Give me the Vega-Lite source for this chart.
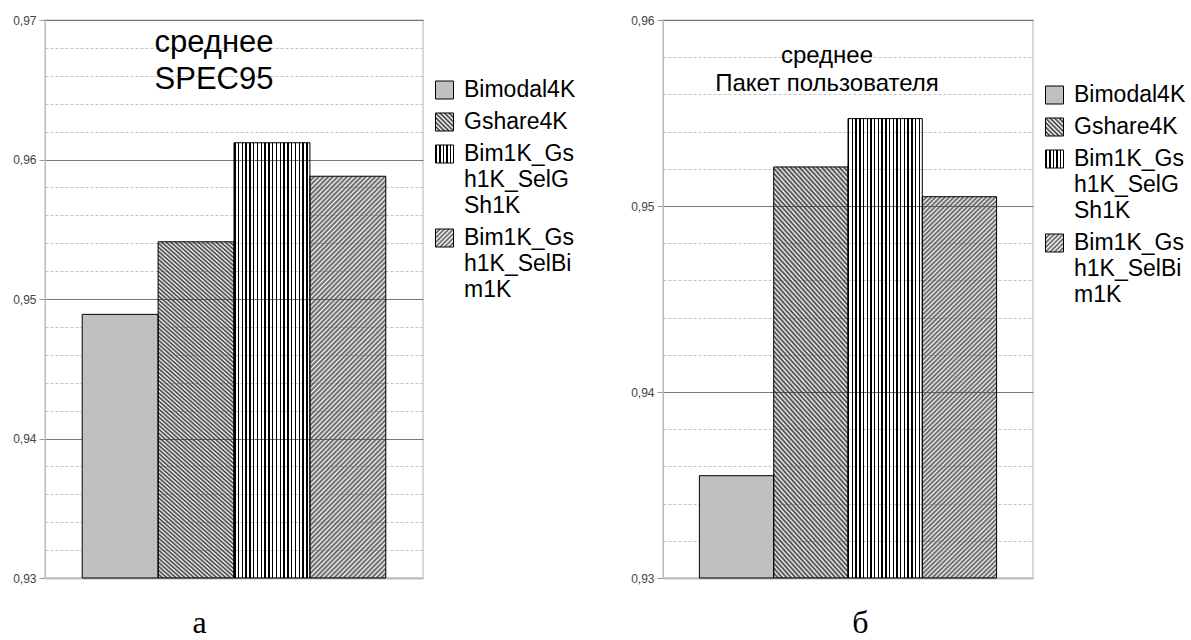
{
"$schema": "https://vega.github.io/schema/vega-lite/v6.json",
"background": "white",
"padding": {"left": 11, "top": 13, "right": 0, "bottom": 0},
"bounds": "flush",
"spacing": 240,
"resolve": {"scale": {"fill": "independent"}, "legend": {"fill": "independent"}},
"config": {"view": {"stroke": "#d9d9d9", "strokeWidth": 2}, "font": "Liberation Sans"},
"params": [
{"name": "gradG", "value": {"gradient": "linear", "x1": 0, "y1": 1, "x2": 0.2318, "y2": -0.1542, "stops": [
{"offset":0,"color":"#444"},{"offset":0.005,"color":"transparent"},{"offset":0.01,"color":"#444"},{"offset":0.015,"color":"transparent"},{"offset":0.02,"color":"#444"},{"offset":0.025,"color":"transparent"},{"offset":0.03,"color":"#444"},{"offset":0.035,"color":"transparent"},{"offset":0.04,"color":"#444"},{"offset":0.045,"color":"transparent"},
{"offset":0.05,"color":"#444"},{"offset":0.055,"color":"transparent"},{"offset":0.06,"color":"#444"},{"offset":0.065,"color":"transparent"},{"offset":0.07,"color":"#444"},{"offset":0.075,"color":"transparent"},{"offset":0.08,"color":"#444"},{"offset":0.085,"color":"transparent"},{"offset":0.09,"color":"#444"},{"offset":0.095,"color":"transparent"},
{"offset":0.1,"color":"#444"},{"offset":0.105,"color":"transparent"},{"offset":0.11,"color":"#444"},{"offset":0.115,"color":"transparent"},{"offset":0.12,"color":"#444"},{"offset":0.125,"color":"transparent"},{"offset":0.13,"color":"#444"},{"offset":0.135,"color":"transparent"},{"offset":0.14,"color":"#444"},{"offset":0.145,"color":"transparent"},
{"offset":0.15,"color":"#444"},{"offset":0.155,"color":"transparent"},{"offset":0.16,"color":"#444"},{"offset":0.165,"color":"transparent"},{"offset":0.17,"color":"#444"},{"offset":0.175,"color":"transparent"},{"offset":0.18,"color":"#444"},{"offset":0.185,"color":"transparent"},{"offset":0.19,"color":"#444"},{"offset":0.195,"color":"transparent"},
{"offset":0.2,"color":"#444"},{"offset":0.205,"color":"transparent"},{"offset":0.21,"color":"#444"},{"offset":0.215,"color":"transparent"},{"offset":0.22,"color":"#444"},{"offset":0.225,"color":"transparent"},{"offset":0.23,"color":"#444"},{"offset":0.235,"color":"transparent"},{"offset":0.24,"color":"#444"},{"offset":0.245,"color":"transparent"},
{"offset":0.25,"color":"#444"},{"offset":0.255,"color":"transparent"},{"offset":0.26,"color":"#444"},{"offset":0.265,"color":"transparent"},{"offset":0.27,"color":"#444"},{"offset":0.275,"color":"transparent"},{"offset":0.28,"color":"#444"},{"offset":0.285,"color":"transparent"},{"offset":0.29,"color":"#444"},{"offset":0.295,"color":"transparent"},
{"offset":0.3,"color":"#444"},{"offset":0.305,"color":"transparent"},{"offset":0.31,"color":"#444"},{"offset":0.315,"color":"transparent"},{"offset":0.32,"color":"#444"},{"offset":0.325,"color":"transparent"},{"offset":0.33,"color":"#444"},{"offset":0.335,"color":"transparent"},{"offset":0.34,"color":"#444"},{"offset":0.345,"color":"transparent"},
{"offset":0.35,"color":"#444"},{"offset":0.355,"color":"transparent"},{"offset":0.36,"color":"#444"},{"offset":0.365,"color":"transparent"},{"offset":0.37,"color":"#444"},{"offset":0.375,"color":"transparent"},{"offset":0.38,"color":"#444"},{"offset":0.385,"color":"transparent"},{"offset":0.39,"color":"#444"},{"offset":0.395,"color":"transparent"},
{"offset":0.4,"color":"#444"},{"offset":0.405,"color":"transparent"},{"offset":0.41,"color":"#444"},{"offset":0.415,"color":"transparent"},{"offset":0.42,"color":"#444"},{"offset":0.425,"color":"transparent"},{"offset":0.43,"color":"#444"},{"offset":0.435,"color":"transparent"},{"offset":0.44,"color":"#444"},{"offset":0.445,"color":"transparent"},
{"offset":0.45,"color":"#444"},{"offset":0.455,"color":"transparent"},{"offset":0.46,"color":"#444"},{"offset":0.465,"color":"transparent"},{"offset":0.47,"color":"#444"},{"offset":0.475,"color":"transparent"},{"offset":0.48,"color":"#444"},{"offset":0.485,"color":"transparent"},{"offset":0.49,"color":"#444"},{"offset":0.495,"color":"transparent"},
{"offset":0.5,"color":"#444"},{"offset":0.505,"color":"transparent"},{"offset":0.51,"color":"#444"},{"offset":0.515,"color":"transparent"},{"offset":0.52,"color":"#444"},{"offset":0.525,"color":"transparent"},{"offset":0.53,"color":"#444"},{"offset":0.535,"color":"transparent"},{"offset":0.54,"color":"#444"},{"offset":0.545,"color":"transparent"},
{"offset":0.55,"color":"#444"},{"offset":0.555,"color":"transparent"},{"offset":0.56,"color":"#444"},{"offset":0.565,"color":"transparent"},{"offset":0.57,"color":"#444"},{"offset":0.575,"color":"transparent"},{"offset":0.58,"color":"#444"},{"offset":0.585,"color":"transparent"},{"offset":0.59,"color":"#444"},{"offset":0.595,"color":"transparent"},
{"offset":0.6,"color":"#444"},{"offset":0.605,"color":"transparent"},{"offset":0.61,"color":"#444"},{"offset":0.615,"color":"transparent"},{"offset":0.62,"color":"#444"},{"offset":0.625,"color":"transparent"},{"offset":0.63,"color":"#444"},{"offset":0.635,"color":"transparent"},{"offset":0.64,"color":"#444"},{"offset":0.645,"color":"transparent"},
{"offset":0.65,"color":"#444"},{"offset":0.655,"color":"transparent"},{"offset":0.66,"color":"#444"},{"offset":0.665,"color":"transparent"},{"offset":0.67,"color":"#444"},{"offset":0.675,"color":"transparent"},{"offset":0.68,"color":"#444"},{"offset":0.685,"color":"transparent"},{"offset":0.69,"color":"#444"},{"offset":0.695,"color":"transparent"},
{"offset":0.7,"color":"#444"},{"offset":0.705,"color":"transparent"},{"offset":0.71,"color":"#444"},{"offset":0.715,"color":"transparent"},{"offset":0.72,"color":"#444"},{"offset":0.725,"color":"transparent"},{"offset":0.73,"color":"#444"},{"offset":0.735,"color":"transparent"},{"offset":0.74,"color":"#444"},{"offset":0.745,"color":"transparent"},
{"offset":0.75,"color":"#444"},{"offset":0.755,"color":"transparent"},{"offset":0.76,"color":"#444"},{"offset":0.765,"color":"transparent"},{"offset":0.77,"color":"#444"},{"offset":0.775,"color":"transparent"},{"offset":0.78,"color":"#444"},{"offset":0.785,"color":"transparent"},{"offset":0.79,"color":"#444"},{"offset":0.795,"color":"transparent"},
{"offset":0.8,"color":"#444"},{"offset":0.805,"color":"transparent"},{"offset":0.81,"color":"#444"},{"offset":0.815,"color":"transparent"},{"offset":0.82,"color":"#444"},{"offset":0.825,"color":"transparent"},{"offset":0.83,"color":"#444"},{"offset":0.835,"color":"transparent"},{"offset":0.84,"color":"#444"},{"offset":0.845,"color":"transparent"},
{"offset":0.85,"color":"#444"},{"offset":0.855,"color":"transparent"},{"offset":0.86,"color":"#444"},{"offset":0.865,"color":"transparent"},{"offset":0.87,"color":"#444"},{"offset":0.875,"color":"transparent"},{"offset":0.88,"color":"#444"},{"offset":0.885,"color":"transparent"},{"offset":0.89,"color":"#444"},{"offset":0.895,"color":"transparent"},
{"offset":0.9,"color":"#444"},{"offset":0.905,"color":"transparent"},{"offset":0.91,"color":"#444"},{"offset":0.915,"color":"transparent"},{"offset":0.92,"color":"#444"},{"offset":0.925,"color":"transparent"},{"offset":0.93,"color":"#444"},{"offset":0.935,"color":"transparent"},{"offset":0.94,"color":"#444"},{"offset":0.945,"color":"transparent"},
{"offset":0.95,"color":"#444"},{"offset":0.955,"color":"transparent"},{"offset":0.96,"color":"#444"},{"offset":0.965,"color":"transparent"},{"offset":0.97,"color":"#444"},{"offset":0.975,"color":"transparent"},{"offset":0.98,"color":"#444"},{"offset":0.985,"color":"transparent"},{"offset":0.99,"color":"#444"},{"offset":0.995,"color":"transparent"},
{"offset":1,"color":"#444"}
]}},
{"name": "gradB", "value": {"gradient": "linear", "x1": 0, "y1": 0, "x2": 0.2211, "y2": 1.1497, "stops": [
{"offset":0,"color":"#666"},{"offset":0.005,"color":"transparent"},{"offset":0.01,"color":"#666"},{"offset":0.015,"color":"transparent"},{"offset":0.02,"color":"#666"},{"offset":0.025,"color":"transparent"},{"offset":0.03,"color":"#666"},{"offset":0.035,"color":"transparent"},{"offset":0.04,"color":"#666"},{"offset":0.045,"color":"transparent"},
{"offset":0.05,"color":"#666"},{"offset":0.055,"color":"transparent"},{"offset":0.06,"color":"#666"},{"offset":0.065,"color":"transparent"},{"offset":0.07,"color":"#666"},{"offset":0.075,"color":"transparent"},{"offset":0.08,"color":"#666"},{"offset":0.085,"color":"transparent"},{"offset":0.09,"color":"#666"},{"offset":0.095,"color":"transparent"},
{"offset":0.1,"color":"#666"},{"offset":0.105,"color":"transparent"},{"offset":0.11,"color":"#666"},{"offset":0.115,"color":"transparent"},{"offset":0.12,"color":"#666"},{"offset":0.125,"color":"transparent"},{"offset":0.13,"color":"#666"},{"offset":0.135,"color":"transparent"},{"offset":0.14,"color":"#666"},{"offset":0.145,"color":"transparent"},
{"offset":0.15,"color":"#666"},{"offset":0.155,"color":"transparent"},{"offset":0.16,"color":"#666"},{"offset":0.165,"color":"transparent"},{"offset":0.17,"color":"#666"},{"offset":0.175,"color":"transparent"},{"offset":0.18,"color":"#666"},{"offset":0.185,"color":"transparent"},{"offset":0.19,"color":"#666"},{"offset":0.195,"color":"transparent"},
{"offset":0.2,"color":"#666"},{"offset":0.205,"color":"transparent"},{"offset":0.21,"color":"#666"},{"offset":0.215,"color":"transparent"},{"offset":0.22,"color":"#666"},{"offset":0.225,"color":"transparent"},{"offset":0.23,"color":"#666"},{"offset":0.235,"color":"transparent"},{"offset":0.24,"color":"#666"},{"offset":0.245,"color":"transparent"},
{"offset":0.25,"color":"#666"},{"offset":0.255,"color":"transparent"},{"offset":0.26,"color":"#666"},{"offset":0.265,"color":"transparent"},{"offset":0.27,"color":"#666"},{"offset":0.275,"color":"transparent"},{"offset":0.28,"color":"#666"},{"offset":0.285,"color":"transparent"},{"offset":0.29,"color":"#666"},{"offset":0.295,"color":"transparent"},
{"offset":0.3,"color":"#666"},{"offset":0.305,"color":"transparent"},{"offset":0.31,"color":"#666"},{"offset":0.315,"color":"transparent"},{"offset":0.32,"color":"#666"},{"offset":0.325,"color":"transparent"},{"offset":0.33,"color":"#666"},{"offset":0.335,"color":"transparent"},{"offset":0.34,"color":"#666"},{"offset":0.345,"color":"transparent"},
{"offset":0.35,"color":"#666"},{"offset":0.355,"color":"transparent"},{"offset":0.36,"color":"#666"},{"offset":0.365,"color":"transparent"},{"offset":0.37,"color":"#666"},{"offset":0.375,"color":"transparent"},{"offset":0.38,"color":"#666"},{"offset":0.385,"color":"transparent"},{"offset":0.39,"color":"#666"},{"offset":0.395,"color":"transparent"},
{"offset":0.4,"color":"#666"},{"offset":0.405,"color":"transparent"},{"offset":0.41,"color":"#666"},{"offset":0.415,"color":"transparent"},{"offset":0.42,"color":"#666"},{"offset":0.425,"color":"transparent"},{"offset":0.43,"color":"#666"},{"offset":0.435,"color":"transparent"},{"offset":0.44,"color":"#666"},{"offset":0.445,"color":"transparent"},
{"offset":0.45,"color":"#666"},{"offset":0.455,"color":"transparent"},{"offset":0.46,"color":"#666"},{"offset":0.465,"color":"transparent"},{"offset":0.47,"color":"#666"},{"offset":0.475,"color":"transparent"},{"offset":0.48,"color":"#666"},{"offset":0.485,"color":"transparent"},{"offset":0.49,"color":"#666"},{"offset":0.495,"color":"transparent"},
{"offset":0.5,"color":"#666"},{"offset":0.505,"color":"transparent"},{"offset":0.51,"color":"#666"},{"offset":0.515,"color":"transparent"},{"offset":0.52,"color":"#666"},{"offset":0.525,"color":"transparent"},{"offset":0.53,"color":"#666"},{"offset":0.535,"color":"transparent"},{"offset":0.54,"color":"#666"},{"offset":0.545,"color":"transparent"},
{"offset":0.55,"color":"#666"},{"offset":0.555,"color":"transparent"},{"offset":0.56,"color":"#666"},{"offset":0.565,"color":"transparent"},{"offset":0.57,"color":"#666"},{"offset":0.575,"color":"transparent"},{"offset":0.58,"color":"#666"},{"offset":0.585,"color":"transparent"},{"offset":0.59,"color":"#666"},{"offset":0.595,"color":"transparent"},
{"offset":0.6,"color":"#666"},{"offset":0.605,"color":"transparent"},{"offset":0.61,"color":"#666"},{"offset":0.615,"color":"transparent"},{"offset":0.62,"color":"#666"},{"offset":0.625,"color":"transparent"},{"offset":0.63,"color":"#666"},{"offset":0.635,"color":"transparent"},{"offset":0.64,"color":"#666"},{"offset":0.645,"color":"transparent"},
{"offset":0.65,"color":"#666"},{"offset":0.655,"color":"transparent"},{"offset":0.66,"color":"#666"},{"offset":0.665,"color":"transparent"},{"offset":0.67,"color":"#666"},{"offset":0.675,"color":"transparent"},{"offset":0.68,"color":"#666"},{"offset":0.685,"color":"transparent"},{"offset":0.69,"color":"#666"},{"offset":0.695,"color":"transparent"},
{"offset":0.7,"color":"#666"},{"offset":0.705,"color":"transparent"},{"offset":0.71,"color":"#666"},{"offset":0.715,"color":"transparent"},{"offset":0.72,"color":"#666"},{"offset":0.725,"color":"transparent"},{"offset":0.73,"color":"#666"},{"offset":0.735,"color":"transparent"},{"offset":0.74,"color":"#666"},{"offset":0.745,"color":"transparent"},
{"offset":0.75,"color":"#666"},{"offset":0.755,"color":"transparent"},{"offset":0.76,"color":"#666"},{"offset":0.765,"color":"transparent"},{"offset":0.77,"color":"#666"},{"offset":0.775,"color":"transparent"},{"offset":0.78,"color":"#666"},{"offset":0.785,"color":"transparent"},{"offset":0.79,"color":"#666"},{"offset":0.795,"color":"transparent"},
{"offset":0.8,"color":"#666"},{"offset":0.805,"color":"transparent"},{"offset":0.81,"color":"#666"},{"offset":0.815,"color":"transparent"},{"offset":0.82,"color":"#666"},{"offset":0.825,"color":"transparent"},{"offset":0.83,"color":"#666"},{"offset":0.835,"color":"transparent"},{"offset":0.84,"color":"#666"},{"offset":0.845,"color":"transparent"},
{"offset":0.85,"color":"#666"},{"offset":0.855,"color":"transparent"},{"offset":0.86,"color":"#666"},{"offset":0.865,"color":"transparent"},{"offset":0.87,"color":"#666"},{"offset":0.875,"color":"transparent"},{"offset":0.88,"color":"#666"},{"offset":0.885,"color":"transparent"},{"offset":0.89,"color":"#666"},{"offset":0.895,"color":"transparent"},
{"offset":0.9,"color":"#666"},{"offset":0.905,"color":"transparent"},{"offset":0.91,"color":"#666"},{"offset":0.915,"color":"transparent"},{"offset":0.92,"color":"#666"},{"offset":0.925,"color":"transparent"},{"offset":0.93,"color":"#666"},{"offset":0.935,"color":"transparent"},{"offset":0.94,"color":"#666"},{"offset":0.945,"color":"transparent"},
{"offset":0.95,"color":"#666"},{"offset":0.955,"color":"transparent"},{"offset":0.96,"color":"#666"},{"offset":0.965,"color":"transparent"},{"offset":0.97,"color":"#666"},{"offset":0.975,"color":"transparent"},{"offset":0.98,"color":"#666"},{"offset":0.985,"color":"transparent"},{"offset":0.99,"color":"#666"},{"offset":0.995,"color":"transparent"},
{"offset":1,"color":"#666"}
]}},
{"name": "gradV", "value": {"gradient": "linear", "x1": 0, "y1": 0, "x2": 1, "y2": 0, "stops": [
{"offset":0,"color":"#000"},{"offset":0.02,"color":"#000"},{"offset":0.02,"color":"transparent"},{"offset":0.05,"color":"transparent"},
{"offset":0.05,"color":"#000"},{"offset":0.07,"color":"#000"},{"offset":0.07,"color":"transparent"},{"offset":0.1,"color":"transparent"},
{"offset":0.1,"color":"#000"},{"offset":0.12,"color":"#000"},{"offset":0.12,"color":"transparent"},{"offset":0.15,"color":"transparent"},
{"offset":0.15,"color":"#000"},{"offset":0.17,"color":"#000"},{"offset":0.17,"color":"transparent"},{"offset":0.2,"color":"transparent"},
{"offset":0.2,"color":"#000"},{"offset":0.22,"color":"#000"},{"offset":0.22,"color":"transparent"},{"offset":0.25,"color":"transparent"},
{"offset":0.25,"color":"#000"},{"offset":0.27,"color":"#000"},{"offset":0.27,"color":"transparent"},{"offset":0.3,"color":"transparent"},
{"offset":0.3,"color":"#000"},{"offset":0.32,"color":"#000"},{"offset":0.32,"color":"transparent"},{"offset":0.35,"color":"transparent"},
{"offset":0.35,"color":"#000"},{"offset":0.37,"color":"#000"},{"offset":0.37,"color":"transparent"},{"offset":0.4,"color":"transparent"},
{"offset":0.4,"color":"#000"},{"offset":0.42,"color":"#000"},{"offset":0.42,"color":"transparent"},{"offset":0.45,"color":"transparent"},
{"offset":0.45,"color":"#000"},{"offset":0.47,"color":"#000"},{"offset":0.47,"color":"transparent"},{"offset":0.5,"color":"transparent"},
{"offset":0.5,"color":"#000"},{"offset":0.52,"color":"#000"},{"offset":0.52,"color":"transparent"},{"offset":0.55,"color":"transparent"},
{"offset":0.55,"color":"#000"},{"offset":0.57,"color":"#000"},{"offset":0.57,"color":"transparent"},{"offset":0.6,"color":"transparent"},
{"offset":0.6,"color":"#000"},{"offset":0.62,"color":"#000"},{"offset":0.62,"color":"transparent"},{"offset":0.65,"color":"transparent"},
{"offset":0.65,"color":"#000"},{"offset":0.67,"color":"#000"},{"offset":0.67,"color":"transparent"},{"offset":0.7,"color":"transparent"},
{"offset":0.7,"color":"#000"},{"offset":0.72,"color":"#000"},{"offset":0.72,"color":"transparent"},{"offset":0.75,"color":"transparent"},
{"offset":0.75,"color":"#000"},{"offset":0.77,"color":"#000"},{"offset":0.77,"color":"transparent"},{"offset":0.8,"color":"transparent"},
{"offset":0.8,"color":"#000"},{"offset":0.82,"color":"#000"},{"offset":0.82,"color":"transparent"},{"offset":0.85,"color":"transparent"},
{"offset":0.85,"color":"#000"},{"offset":0.87,"color":"#000"},{"offset":0.87,"color":"transparent"},{"offset":0.9,"color":"transparent"},
{"offset":0.9,"color":"#000"},{"offset":0.92,"color":"#000"},{"offset":0.92,"color":"transparent"},{"offset":0.95,"color":"transparent"},
{"offset":0.95,"color":"#000"},{"offset":0.97,"color":"#000"},{"offset":0.97,"color":"transparent"},{"offset":1,"color":"transparent"}
]}},
{"name": "legG", "value": {"gradient": "linear", "x1": 0, "y1": 1, "x2": 1, "y2": 0, "stops": [
{"offset":0,"color":"#333"},{"offset":0.0625,"color":"#fff"},{"offset":0.125,"color":"#333"},{"offset":0.1875,"color":"#fff"},{"offset":0.25,"color":"#333"},{"offset":0.3125,"color":"#fff"},{"offset":0.375,"color":"#333"},{"offset":0.4375,"color":"#fff"},{"offset":0.5,"color":"#333"},{"offset":0.5625,"color":"#fff"},{"offset":0.625,"color":"#333"},{"offset":0.6875,"color":"#fff"},{"offset":0.75,"color":"#333"},{"offset":0.8125,"color":"#fff"},{"offset":0.875,"color":"#333"},{"offset":0.9375,"color":"#fff"},{"offset":1,"color":"#333"}
]}},
{"name": "legB", "value": {"gradient": "linear", "x1": 0, "y1": 0, "x2": 1, "y2": 1, "stops": [
{"offset":0,"color":"#555"},{"offset":0.0625,"color":"#fff"},{"offset":0.125,"color":"#555"},{"offset":0.1875,"color":"#fff"},{"offset":0.25,"color":"#555"},{"offset":0.3125,"color":"#fff"},{"offset":0.375,"color":"#555"},{"offset":0.4375,"color":"#fff"},{"offset":0.5,"color":"#555"},{"offset":0.5625,"color":"#fff"},{"offset":0.625,"color":"#555"},{"offset":0.6875,"color":"#fff"},{"offset":0.75,"color":"#555"},{"offset":0.8125,"color":"#fff"},{"offset":0.875,"color":"#555"},{"offset":0.9375,"color":"#fff"},{"offset":1,"color":"#555"}
]}},
{"name": "legV", "value": {"gradient": "linear", "x1": 0, "y1": 0, "x2": 1, "y2": 0, "stops": [
{"offset":0,"color":"#000"},{"offset":0.08,"color":"#000"},{"offset":0.08,"color":"#fff"},{"offset":0.2,"color":"#fff"},
{"offset":0.2,"color":"#000"},{"offset":0.28,"color":"#000"},{"offset":0.28,"color":"#fff"},{"offset":0.4,"color":"#fff"},
{"offset":0.4,"color":"#000"},{"offset":0.48,"color":"#000"},{"offset":0.48,"color":"#fff"},{"offset":0.6,"color":"#fff"},
{"offset":0.6,"color":"#000"},{"offset":0.68,"color":"#000"},{"offset":0.68,"color":"#fff"},{"offset":0.8,"color":"#fff"},
{"offset":0.8,"color":"#000"},{"offset":0.88,"color":"#000"},{"offset":0.88,"color":"#fff"},{"offset":1,"color":"#fff"}
]}}
],
"hconcat": [
{
"width": 378, "height": 558,
"data": {"values": [
{"series": "Bimodal4K", "value": 0.9489},
{"series": "Gshare4K", "value": 0.9541},
{"series": "Bim1K_Gsh1K_SelGSh1K", "value": 0.9612},
{"series": "Bim1K_Gsh1K_SelBim1K", "value": 0.9588}
]},
"title": {"text": ["среднее", "SPEC95"], "font": "Liberation Sans", "fontSize": 31, "fontWeight": "normal", "color": "#000", "anchor": "middle", "frame": "group", "baseline": "alphabetic", "lineHeight": 36.6, "offset": -38, "dy": 68, "dx": -20},
"resolve": {"scale": {"fill": "independent"}, "legend": {"fill": "independent"}},
"encoding": {
"x": {"field": "series", "type": "nominal", "scale": {"domain": ["Bimodal4K", "Gshare4K", "Bim1K_Gsh1K_SelGSh1K", "Bim1K_Gsh1K_SelBim1K"], "paddingInner": 0, "paddingOuter": 0.49},
"axis": {"title": "а", "labels": false, "ticks": false, "grid": false, "domainColor": "#bdbdbd", "domainWidth": 2, "titleFont": "Liberation Serif", "titleFontSize": 32, "titleFontWeight": "normal", "titleColor": "#000", "titleX": 154, "titleY": 54, "titleAlign": "center", "titleBaseline": "alphabetic"}},
"y": {"field": "value", "type": "quantitative", "scale": {"domain": [0.93, 0.97], "nice": false, "zero": false, "clamp": true},
"axis": {"title": null, "values": [0.93,0.932,0.934,0.936,0.938,0.94,0.942,0.944,0.946,0.948,0.95,0.952,0.954,0.956,0.958,0.96,0.962,0.964,0.966,0.968,0.97],
"labelExpr": "abs(datum.value*100-round(datum.value*100))<0.01 ? replace(format(datum.value,'.2f'),'.',',') : ''",
"labelFont": "Liberation Sans", "labelFontSize": 12, "labelColor": "#444", "labelPadding": 3, "labelOverlap": false, "labelFlush": false,
"tickSize": 6, "tickColor": {"condition": {"test": "abs(datum.value*100-round(datum.value*100))<0.01", "value": "#999"}, "value": "transparent"},
"grid": true, "gridWidth": 1,
"gridColor": {"condition": [{"test": "datum.value < 0.931", "value": "transparent"}, {"test": "abs(datum.value*100-round(datum.value*100))<0.01", "value": "#777"}], "value": "#c4c4c4"},
"gridDash": {"condition": {"test": "abs(datum.value*100-round(datum.value*100))<0.01", "value": []}, "value": [3, 2]},
"domainColor": "#bbbbbb", "domainWidth": 1}}
},
"layer": [
{"mark": {"type": "bar", "strokeWidth": 0},
"encoding": {"fill": {"field": "series", "type": "nominal", "legend": null,
"scale": {"domain": ["Bimodal4K", "Gshare4K", "Bim1K_Gsh1K_SelGSh1K", "Bim1K_Gsh1K_SelBim1K"], "range": ["#c0c0c0", {"expr": "gradG"}, {"expr": "gradV"}, {"expr": "gradB"}]}}}},
{"mark": {"type": "bar", "fill": "transparent", "stroke": "#000", "strokeWidth": 1}},
{"mark": {"type": "bar", "opacity": 0},
"encoding": {"fill": {"field": "series", "type": "nominal",
"scale": {"domain": ["Bimodal4K", "Gshare4K", "Bim1K_Gsh1K_SelGSh1K", "Bim1K_Gsh1K_SelBim1K"], "range": ["#c0c0c0", {"expr": "legG"}, {"expr": "legV"}, {"expr": "legB"}]},
"legend": {"title": null, "orient": "none", "legendX": 388, "legendY": 58.5, "padding": 0,
"symbolType": "square", "symbolSize": 324, "symbolStrokeColor": "#000", "symbolStrokeWidth": 1, "symbolOpacity": 1,
"labelFont": "Liberation Sans", "labelFontSize": 23, "labelColor": "#000", "labelOffset": 8, "labelLimit": 400, "labelBaseline": "top", "rowPadding": 9,
"labelExpr": "datum.label == 'Bim1K_Gsh1K_SelGSh1K' ? ['Bim1K_Gs','h1K_SelG','Sh1K'] : datum.label == 'Bim1K_Gsh1K_SelBim1K' ? ['Bim1K_Gs','h1K_SelBi','m1K'] : datum.label",
"encode": {"labels": {"update": {"dy": {"value": -11.5}, "lineHeight": {"value": 26}}}}}
}}}
]
},
{
"width": 370, "height": 558,
"data": {"values": [
{"series": "Bimodal4K", "value": 0.9355},
{"series": "Gshare4K", "value": 0.9521},
{"series": "Bim1K_Gsh1K_SelGSh1K", "value": 0.9547},
{"series": "Bim1K_Gsh1K_SelBim1K", "value": 0.9505}
]},
"title": {"text": ["среднее", "Пакет пользователя"], "font": "Liberation Sans", "fontSize": 24, "fontWeight": "normal", "color": "#000", "anchor": "middle", "frame": "group", "baseline": "alphabetic", "lineHeight": 28, "offset": -48, "dy": 53, "dx": -21},
"resolve": {"scale": {"fill": "independent"}, "legend": {"fill": "independent"}},
"encoding": {
"x": {"field": "series", "type": "nominal", "scale": {"domain": ["Bimodal4K", "Gshare4K", "Bim1K_Gsh1K_SelGSh1K", "Bim1K_Gsh1K_SelBim1K"], "paddingInner": 0, "paddingOuter": 0.49},
"axis": {"title": "б", "labels": false, "ticks": false, "grid": false, "domainColor": "#bdbdbd", "domainWidth": 2, "titleFont": "Liberation Serif", "titleFontSize": 32, "titleFontWeight": "normal", "titleColor": "#000", "titleX": 197, "titleY": 54, "titleAlign": "center", "titleBaseline": "alphabetic"}},
"y": {"field": "value", "type": "quantitative", "scale": {"domain": [0.93, 0.96], "nice": false, "zero": false, "clamp": true},
"axis": {"title": null, "values": [0.93,0.932,0.934,0.936,0.938,0.94,0.942,0.944,0.946,0.948,0.95,0.952,0.954,0.956,0.958,0.96],
"labelExpr": "abs(datum.value*100-round(datum.value*100))<0.01 ? replace(format(datum.value,'.2f'),'.',',') : ''",
"labelFont": "Liberation Sans", "labelFontSize": 12, "labelColor": "#444", "labelPadding": 3, "labelOverlap": false, "labelFlush": false,
"tickSize": 6, "tickColor": {"condition": {"test": "abs(datum.value*100-round(datum.value*100))<0.01", "value": "#999"}, "value": "transparent"},
"grid": true, "gridWidth": 1,
"gridColor": {"condition": [{"test": "datum.value < 0.931", "value": "transparent"}, {"test": "abs(datum.value*100-round(datum.value*100))<0.01", "value": "#777"}], "value": "#c4c4c4"},
"gridDash": {"condition": {"test": "abs(datum.value*100-round(datum.value*100))<0.01", "value": []}, "value": [3, 2]},
"domainColor": "#bbbbbb", "domainWidth": 1}}
},
"layer": [
{"mark": {"type": "bar", "strokeWidth": 0},
"encoding": {"fill": {"field": "series", "type": "nominal", "legend": null,
"scale": {"domain": ["Bimodal4K", "Gshare4K", "Bim1K_Gsh1K_SelGSh1K", "Bim1K_Gsh1K_SelBim1K"], "range": ["#c0c0c0", {"expr": "gradG"}, {"expr": "gradV"}, {"expr": "gradB"}]}}}},
{"mark": {"type": "bar", "fill": "transparent", "stroke": "#000", "strokeWidth": 1}},
{"mark": {"type": "bar", "opacity": 0},
"encoding": {"fill": {"field": "series", "type": "nominal",
"scale": {"domain": ["Bimodal4K", "Gshare4K", "Bim1K_Gsh1K_SelGSh1K", "Bim1K_Gsh1K_SelBim1K"], "range": ["#c0c0c0", {"expr": "legG"}, {"expr": "legV"}, {"expr": "legB"}]},
"legend": {"title": null, "orient": "none", "legendX": 380, "legendY": 63.5, "padding": 0,
"symbolType": "square", "symbolSize": 324, "symbolStrokeColor": "#000", "symbolStrokeWidth": 1, "symbolOpacity": 1,
"labelFont": "Liberation Sans", "labelFontSize": 23, "labelColor": "#000", "labelOffset": 8, "labelLimit": 400, "labelBaseline": "top", "rowPadding": 9,
"labelExpr": "datum.label == 'Bim1K_Gsh1K_SelGSh1K' ? ['Bim1K_Gs','h1K_SelG','Sh1K'] : datum.label == 'Bim1K_Gsh1K_SelBim1K' ? ['Bim1K_Gs','h1K_SelBi','m1K'] : datum.label",
"encode": {"labels": {"update": {"dy": {"value": -11.5}, "lineHeight": {"value": 26}}}}}
}}}
]
}
]
}
